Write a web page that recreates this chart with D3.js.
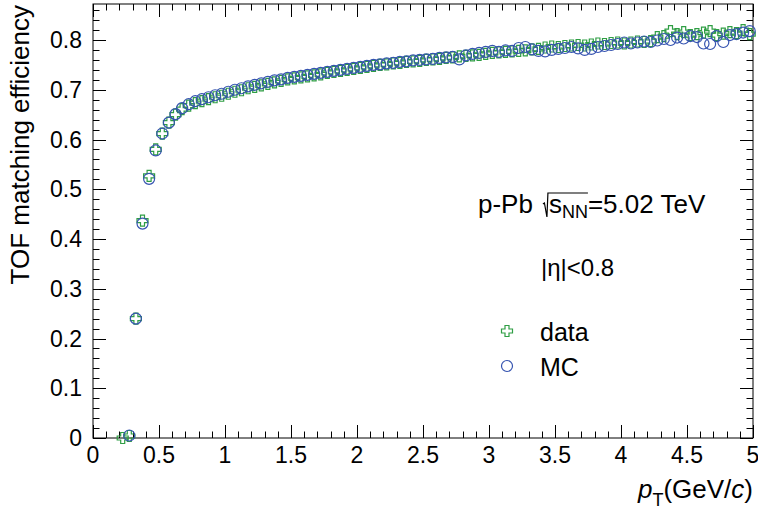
<!DOCTYPE html>
<html><head><meta charset="utf-8">
<script src="https://cdn.jsdelivr.net/npm/d3@7"></script>
<style>body{margin:0;background:#fff}svg{display:block}text{font-family:"Liberation Sans",Arial,sans-serif}</style>
</head><body>
<svg id="c" width="758" height="513"></svg>
<script>
// pT bin centres (GeV/c)
const ptData = [0.225,0.275,0.325,0.375,0.425,0.475,0.525,0.575,0.625,0.675,0.725,0.775,0.825,0.875,0.925,0.975,
1.025,1.075,1.125,1.175,1.225,1.275,1.325,1.375,1.425,1.475,1.525,1.575,1.625,1.675,1.725,1.775,1.825,1.875,1.925,1.975,
2.025,2.075,2.125,2.175,2.225,2.275,2.325,2.375,2.425,2.475,2.525,2.575,2.625,2.675,2.725,2.775,2.825,2.875,2.925,2.975,
3.025,3.075,3.125,3.175,3.225,3.275,3.325,3.375,3.425,3.475,3.525,3.575,3.625,3.675,3.725,3.775,3.825,3.875,3.925,3.975,
4.025,4.075,4.125,4.175,4.225,4.275,4.325,4.375,4.425,4.475,4.525,4.575,4.625,4.675,4.725,4.775,4.825,4.875,4.925,4.975];
const effData = [0.000,0.004,0.240,0.437,0.527,0.580,0.612,0.634,0.650,0.661,0.668,0.673,0.677,0.681,0.685,0.688,
0.692,0.696,0.699,0.703,0.706,0.709,0.712,0.715,0.718,0.721,0.723,0.725,0.727,0.729,0.731,0.734,0.736,0.738,0.740,0.742,
0.744,0.746,0.748,0.750,0.751,0.753,0.754,0.756,0.757,0.758,0.760,0.761,0.762,0.764,0.765,0.767,0.768,0.769,0.770,0.772,
0.774,0.775,0.776,0.777,0.778,0.779,0.781,0.782,0.785,0.787,0.786,0.788,0.789,0.790,0.789,0.791,0.793,0.792,0.794,0.795,
0.793,0.795,0.797,0.796,0.798,0.806,0.808,0.818,0.812,0.816,0.810,0.812,0.815,0.818,0.810,0.813,0.816,0.814,0.820,0.812];
const ptMC = [0.275,0.325,0.375,0.425,0.475,0.525,0.575,0.625,0.675,0.725,0.775,0.825,0.875,0.925,0.975,
1.025,1.075,1.125,1.175,1.225,1.275,1.325,1.375,1.425,1.475,1.525,1.575,1.625,1.675,1.725,1.775,1.825,1.875,1.925,1.975,
2.025,2.075,2.125,2.175,2.225,2.275,2.325,2.375,2.425,2.475,2.525,2.575,2.625,2.675,2.725,2.775,2.825,2.875,2.925,2.975,
3.025,3.075,3.125,3.175,3.225,3.275,3.325,3.375,3.425,3.475,3.525,3.575,3.625,3.675,3.725,3.775,3.825,3.875,3.925,3.975,
4.025,4.075,4.125,4.175,4.225,4.275,4.325,4.375,4.425,4.475,4.525,4.575,4.625,4.675,4.725,4.775,4.825,4.875,4.925,4.975];
const effMC = [0.005,0.240,0.431,0.521,0.578,0.612,0.634,0.651,0.663,0.671,0.677,0.681,0.685,0.689,0.692,
0.696,0.700,0.703,0.707,0.710,0.713,0.716,0.719,0.721,0.724,0.726,0.728,0.730,0.732,0.734,0.736,0.738,0.740,0.742,0.744,
0.746,0.748,0.750,0.751,0.753,0.754,0.756,0.757,0.759,0.760,0.761,0.762,0.764,0.765,0.766,0.761,0.769,0.772,0.774,0.776,
0.778,0.776,0.779,0.778,0.784,0.786,0.781,0.778,0.777,0.780,0.782,0.784,0.786,0.783,0.780,0.782,0.786,0.788,0.790,0.792,
0.795,0.793,0.795,0.797,0.796,0.799,0.802,0.800,0.805,0.803,0.808,0.806,0.793,0.792,0.808,0.796,0.810,0.812,0.815,0.818];
const xTicks = [0,0.5,1,1.5,2,2.5,3,3.5,4,4.5,5];
const xTickLabels = ["0","0.5","1","1.5","2","2.5","3","3.5","4","4.5","5"];
const yTicks = [0,0.1,0.2,0.3,0.4,0.5,0.6,0.7,0.8];
const yTickLabels = ["0","0.1","0.2","0.3","0.4","0.5","0.6","0.7","0.8"];
const seriesNames = ["data","MC"];

const svg = d3.select("#c");
const L=93,R=753,T=4,B=438;
const x = d3.scaleLinear().domain([0,5]).range([L,R]);
const y = d3.scaleLinear().domain([0,0.8724]).range([B,T]);
const GREEN="#2f9e44", BLUE="#3553b0";
const FS=23, FT=26;

// frame
svg.append("rect").attr("x",L).attr("y",T).attr("width",R-L).attr("height",B-T)
  .attr("fill","none").attr("stroke","#000").attr("stroke-width",1);

// ticks (inside, all four sides)
const xMinor = d3.range(0,5.0001,0.1);
const yMinor = d3.range(0,0.8701,0.02);
const tg = svg.append("g").attr("stroke","#000").attr("stroke-width",1);
xMinor.forEach((v,i)=>{
  const major = i%5===0; const len = major?13:6.5; const px=Math.round(x(v))+0.5;
  tg.append("line").attr("x1",px).attr("x2",px).attr("y1",B).attr("y2",B-len);
  tg.append("line").attr("x1",px).attr("x2",px).attr("y1",T).attr("y2",T+len);
});
yMinor.forEach((v,i)=>{
  const major = i%5===0; const len = major?13:6.5; const py=Math.round(y(v))+0.5;
  tg.append("line").attr("y1",py).attr("y2",py).attr("x1",L).attr("x2",L+len);
  tg.append("line").attr("y1",py).attr("y2",py).attr("x1",R).attr("x2",R-len);
});

// tick labels
svg.append("g").selectAll("text").data(xTicks).join("text")
  .attr("x",d=>x(d)).attr("y",B+25).attr("text-anchor","middle").attr("font-size",FS)
  .text((d,i)=>xTickLabels[i]);
svg.append("g").selectAll("text").data(yTicks).join("text")
  .attr("x",L-11).attr("y",d=>y(d)+8).attr("text-anchor","end").attr("font-size",FS)
  .text((d,i)=>yTickLabels[i]);

// axis titles
svg.append("text").attr("transform",`translate(29,${T+1}) rotate(-90)`).attr("text-anchor","end")
  .attr("font-size",FT).text("TOF matching efficiency");
const xt = svg.append("text").attr("x",R).attr("y",498).attr("text-anchor","end").attr("font-size",FT);
xt.append("tspan").attr("font-style","italic").text("p");
xt.append("tspan").attr("font-size",18).attr("dy",8).text("T");
xt.append("tspan").attr("dy",-8).text("(GeV/");
xt.append("tspan").attr("font-style","italic").text("c");
xt.append("tspan").text(")");

// markers
const crossPath = (h,w)=>`M${-w},${-h}L${w},${-h}L${w},${-w}L${h},${-w}L${h},${w}L${w},${w}L${w},${h}L${-w},${h}L${-w},${w}L${-h},${w}L${-h},${-w}L${-w},${-w}Z`;
const dataPts = ptData.map((p,i)=>({p,v:effData[i]}));
const mcPts = ptMC.map((p,i)=>({p,v:effMC[i]}));
svg.append("g").selectAll("path").data(dataPts).join("path")
  .attr("d",crossPath(5.5,2)).attr("transform",d=>`translate(${x(d.p)},${y(d.v)})`)
  .attr("fill","none").attr("stroke",GREEN).attr("stroke-width",1.2);
svg.append("g").selectAll("circle").data(mcPts).join("circle")
  .attr("cx",d=>x(d.p)).attr("cy",d=>y(d.v)).attr("r",5.5)
  .attr("fill","none").attr("stroke",BLUE).attr("stroke-width",1.2);

// annotation: p-Pb sqrt(s_NN)=5.02 TeV
const ann = svg.append("g");
const t1 = ann.append("text").attr("x",478).attr("y",213).attr("font-size",FT).text("p-Pb");
const w1 = t1.node().getComputedTextLength();
const rx = 478+w1+10;
const t2 = ann.append("text").attr("x",rx+6).attr("y",213).attr("font-size",FT);
t2.append("tspan").text("s");
t2.append("tspan").attr("font-size",18).attr("dy",5).text("NN");
const w2 = t2.node().getComputedTextLength();
ann.append("path").attr("d",`M${rx},204 L${rx+1.5},203 L${rx+4},217 L${rx+5},193 L${rx+6+w2},193`)
  .attr("fill","none").attr("stroke","#000").attr("stroke-width",1.2);
ann.append("text").attr("x",rx+6+w2).attr("y",213).attr("font-size",FT).text("=5.02 TeV");
ann.append("text").attr("x",541).attr("y",276).attr("font-size",24).text("|η|<0.8");

// legend
svg.append("path").attr("d",crossPath(5.5,2)).attr("transform","translate(507,331)")
  .attr("fill","none").attr("stroke",GREEN).attr("stroke-width",1.2);
svg.append("circle").attr("cx",507).attr("cy",366).attr("r",5.5)
  .attr("fill","none").attr("stroke",BLUE).attr("stroke-width",1.2);
svg.append("text").attr("x",540).attr("y",341).attr("font-size",25).text(seriesNames[0]);
svg.append("text").attr("x",540).attr("y",376).attr("font-size",25).text(seriesNames[1]);
</script>
</body></html>
